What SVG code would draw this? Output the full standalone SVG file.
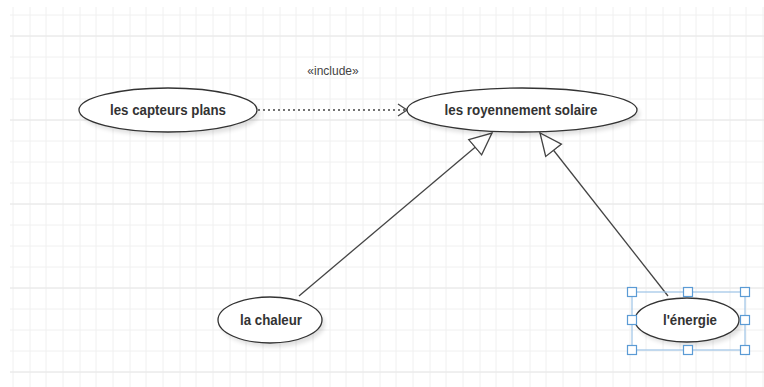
<svg xmlns="http://www.w3.org/2000/svg" width="764" height="387" viewBox="0 0 764 387">
<defs>
<style>
.grid{stroke:#f0f0f0;stroke-width:1}
.gridm{stroke:#e8e8e8;stroke-width:1}
.uc{fill:#fff;stroke:#333;stroke-width:1.3}
.sh{fill:#000;opacity:0.12}
.lbl{font-family:"Liberation Sans",Arial,sans-serif;font-size:14px;font-weight:bold;fill:#333;text-anchor:middle}
.st{font-family:"Liberation Sans",Arial,sans-serif;font-size:12px;fill:#444;text-anchor:middle}
.conn{stroke:#444;stroke-width:1.3;fill:none}
.h{fill:#fff;stroke:#5b9bd5;stroke-width:1.2}
</style>
<filter id="blur" x="-20%" y="-20%" width="140%" height="140%"><feGaussianBlur stdDeviation="2"/></filter>
<marker id="tri" markerUnits="userSpaceOnUse" markerWidth="26" markerHeight="24" refX="23" refY="11" orient="auto">
<path d="M1,1 L23,11 L1,21 Z" fill="#fff" stroke="#444" stroke-width="1.3"/>
</marker>
<marker id="open" markerUnits="userSpaceOnUse" markerWidth="12" markerHeight="14" refX="10" refY="7" orient="auto">
<path d="M1,1 L10,7 L1,13" fill="none" stroke="#444" stroke-width="1.3"/>
</marker>
</defs>
<rect width="764" height="387" fill="#fff"/>
<g id="grid">
<path class="grid" d="M10,15H764M10,36H764M10,57H764M10,78H764M10,99H764M10,120H764M10,141H764M10,162H764M10,183H764M10,204H764M10,225H764M10,246H764M10,267H764M10,288H764M10,309H764M10,330H764M10,351H764M10,372H764"/>
<path class="grid" d="M13,7V387M30,7V387M46,7V387M63,7V387M80,7V387M96,7V387M113,7V387M130,7V387M146,7V387M163,7V387M180,7V387M196,7V387M213,7V387M230,7V387M246,7V387M263,7V387M280,7V387M296,7V387M313,7V387M330,7V387M346,7V387M363,7V387M380,7V387M396,7V387M413,7V387M430,7V387M446,7V387M463,7V387M480,7V387M496,7V387M513,7V387M530,7V387M546,7V387M563,7V387M580,7V387M596,7V387M613,7V387M630,7V387M646,7V387M663,7V387M680,7V387M696,7V387M713,7V387M730,7V387M746,7V387M763,7V387"/>
<path class="gridm" d="M10,36H764M10,120H764M10,204H764M10,288H764M10,372H764"/>
</g>
<g id="connectors">
<line class="conn" x1="258" y1="110" x2="407" y2="110" stroke-dasharray="2,3" marker-end="url(#open)"/>
<text class="st" x="333" y="75">«include»</text>
<line class="conn" x1="299" y1="296" x2="492" y2="133" marker-end="url(#tri)"/>
<line class="conn" x1="668" y1="296" x2="540" y2="133" marker-end="url(#tri)"/>
</g>
<g id="capteurs">
<ellipse class="sh" cx="171" cy="114" rx="89" ry="22" filter="url(#blur)"/>
<ellipse class="uc" cx="168" cy="110" rx="89" ry="22"/>
<text class="lbl" x="168" y="115" textLength="116" lengthAdjust="spacingAndGlyphs">les capteurs plans</text>
</g>
<g id="royennement">
<ellipse class="sh" cx="525" cy="114" rx="115" ry="22" filter="url(#blur)"/>
<ellipse class="uc" cx="522" cy="110" rx="115" ry="22"/>
<text class="lbl" x="521" y="115" textLength="153" lengthAdjust="spacingAndGlyphs">les royennement solaire</text>
</g>
<g id="chaleur">
<ellipse class="sh" cx="273" cy="324" rx="52" ry="23" filter="url(#blur)"/>
<ellipse class="uc" cx="270" cy="320" rx="52" ry="23"/>
<text class="lbl" x="271" y="325" textLength="62" lengthAdjust="spacingAndGlyphs">la chaleur</text>
</g>
<g id="energie">
<ellipse class="sh" cx="690" cy="324" rx="52" ry="22" filter="url(#blur)"/>
<ellipse class="uc" cx="687" cy="320" rx="52" ry="22"/>
<text class="lbl" x="690" y="325" textLength="54" lengthAdjust="spacingAndGlyphs">l'énergie</text>
<g id="selection">
<rect x="632" y="292" width="113" height="58" fill="none" stroke="#9dc3e6" stroke-width="1.2"/>
<rect class="h" x="627.5" y="287.5" width="9" height="9"/>
<rect class="h" x="683.5" y="287.5" width="9" height="9"/>
<rect class="h" x="740.5" y="287.5" width="9" height="9"/>
<rect class="h" x="627.5" y="315.5" width="9" height="9"/>
<rect class="h" x="740.5" y="315.5" width="9" height="9"/>
<rect class="h" x="627.5" y="345.5" width="9" height="9"/>
<rect class="h" x="683.5" y="345.5" width="9" height="9"/>
<rect class="h" x="740.5" y="345.5" width="9" height="9"/>
</g>
</g>
</svg>
